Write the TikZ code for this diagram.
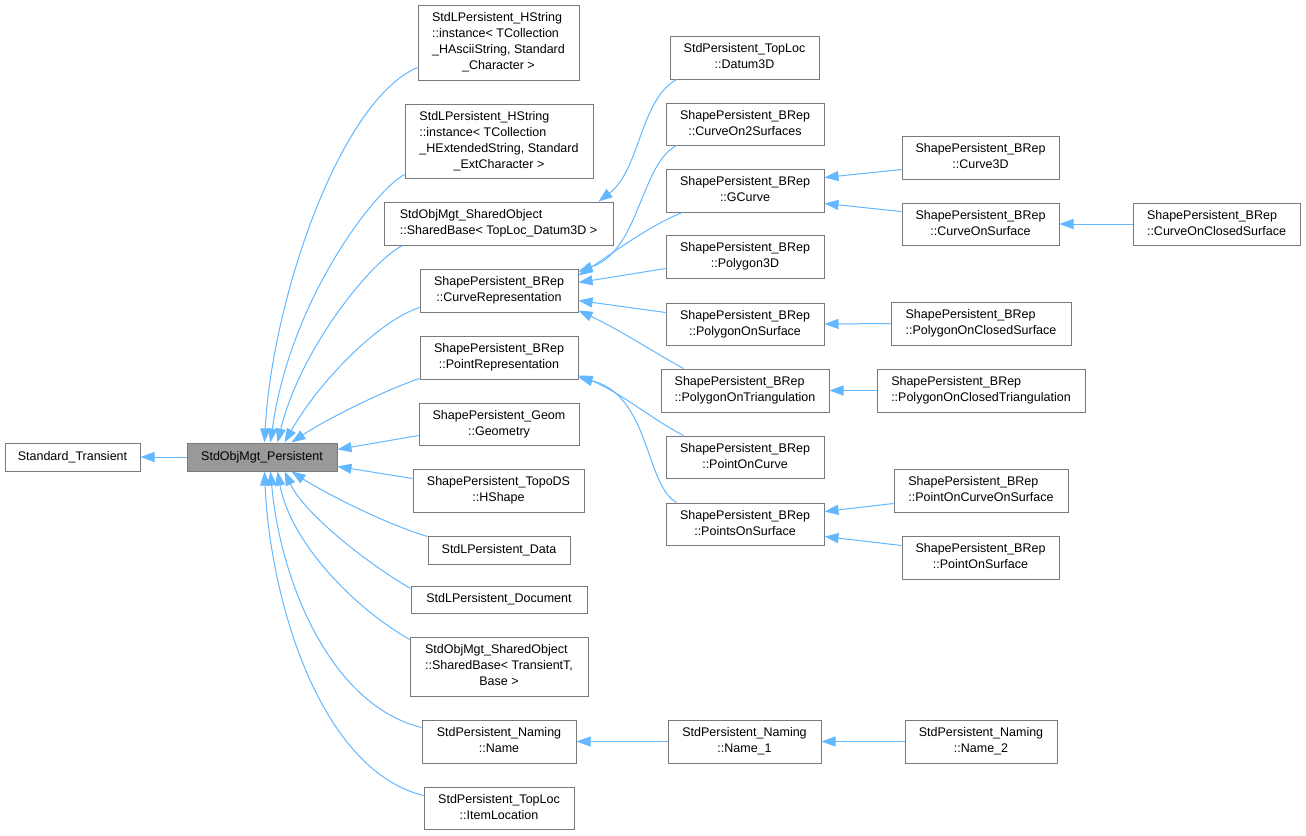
\documentclass[tikz,border=0pt]{standalone}
\usepackage{fontspec}
\setmainfont{Liberation Sans}
\usetikzlibrary{arrows.meta,calc}
\definecolor{edgec}{HTML}{63B8FF}
\definecolor{boxc}{HTML}{7A7A7A}
\definecolor{mainfill}{HTML}{999999}
\newcommand\tl[1]{\begin{tabular}{@{}l@{}}#1\end{tabular}}
\newcommand\lc[1]{\multicolumn{1}{@{}c@{}}{#1}}
\newcommand\bx[7][]{\node[box,#1,minimum width={(#5-#3)*1pt},minimum height={(#6-#4)*1pt}] (#2) at ({(#3+#5)/2},{(#4+#6)/2}) {#7};}
\tikzset{
  box/.style={draw=boxc,fill=white,line width=1pt,inner sep=0pt,font=\fontsize{12.5}{16}\selectfont},
  mainbox/.style={fill=mainfill},
  edge/.style={draw=edgec,line width=1pt,-{Triangle[length=14pt,width=10pt]}},
}
\begin{document}
\begin{tikzpicture}[x=1pt,y=-1pt]
\useasboundingbox[fill=white] (0,0) rectangle (1306,835);
% nodes
\bx{st}{5}{443}{140}{471}{Standard\_Transient}
\bx[mainbox]{per}{187}{443}{337}{471}{StdObjMgt\_Persistent}
\bx{ascii}{418}{5}{579}{80}{\tl{StdLPersistent\_HString\\::instance< TCollection\\\_HAsciiString, Standard\\\lc{\_Character >}}}
\bx{ext}{405}{104}{593}{178}{\tl{StdLPersistent\_HString\\::instance< TCollection\\\_HExtendedString, Standard\\\lc{\_ExtCharacter >}}}
\bx{sbtop}{384}{202}{613}{245}{\tl{StdObjMgt\_SharedObject\\\lc{::SharedBase< TopLoc\_Datum3D >}}}
\bx{crep}{420}{269}{578}{312}{\tl{ShapePersistent\_BRep\\\lc{::CurveRepresentation}}}
\bx{prep}{420}{336}{578}{379}{\tl{ShapePersistent\_BRep\\\lc{::PointRepresentation}}}
\bx{geom}{419}{403}{579}{445}{\tl{ShapePersistent\_Geom\\\lc{::Geometry}}}
\bx{hshape}{413}{469}{584}{512}{\tl{ShapePersistent\_TopoDS\\\lc{::HShape}}}
\bx{data}{428}{536}{570}{564}{StdLPersistent\_Data}
\bx{doc}{411}{586}{587}{613}{StdLPersistent\_Document}
\bx{sbt}{410}{637}{588}{696}{\tl{StdObjMgt\_SharedObject\\::SharedBase< TransientT,\\\lc{Base >}}}
\bx{name}{422}{720}{576}{763}{\tl{StdPersistent\_Naming\\\lc{::Name}}}
\bx{iloc}{424}{787}{574}{829}{\tl{StdPersistent\_TopLoc\\\lc{::ItemLocation}}}
\bx{datum}{670}{36}{819}{79}{\tl{StdPersistent\_TopLoc\\\lc{::Datum3D}}}
\bx{c2s}{666}{103}{824}{145}{\tl{ShapePersistent\_BRep\\\lc{::CurveOn2Surfaces}}}
\bx{gcurve}{666}{169}{824}{212}{\tl{ShapePersistent\_BRep\\\lc{::GCurve}}}
\bx{poly3d}{666}{235}{824}{278}{\tl{ShapePersistent\_BRep\\\lc{::Polygon3D}}}
\bx{pos}{666}{303}{824}{345}{\tl{ShapePersistent\_BRep\\\lc{::PolygonOnSurface}}}
\bx{potri}{661}{369}{829}{412}{\tl{ShapePersistent\_BRep\\\lc{::PolygonOnTriangulation}}}
\bx{poc}{666}{436}{824}{478}{\tl{ShapePersistent\_BRep\\\lc{::PointOnCurve}}}
\bx{psurf}{666}{503}{824}{545}{\tl{ShapePersistent\_BRep\\\lc{::PointsOnSurface}}}
\bx{name1}{668}{720}{821}{763}{\tl{StdPersistent\_Naming\\\lc{::Name\_1}}}
\bx{name2}{905}{720}{1057}{763}{\tl{StdPersistent\_Naming\\\lc{::Name\_2}}}
\bx{curve3d}{902}{136}{1059}{179}{\tl{ShapePersistent\_BRep\\\lc{::Curve3D}}}
\bx{cos}{902}{203}{1059}{245}{\tl{ShapePersistent\_BRep\\\lc{::CurveOnSurface}}}
\bx{cocs}{1133}{203}{1300}{245}{\tl{ShapePersistent\_BRep\\\lc{::CurveOnClosedSurface}}}
\bx{pocs}{891}{302}{1071}{345}{\tl{ShapePersistent\_BRep\\\lc{::PolygonOnClosedSurface}}}
\bx{poct}{877}{369}{1085}{412}{\tl{ShapePersistent\_BRep\\\lc{::PolygonOnClosedTriangulation}}}
\bx{pocos}{894}{469}{1068}{512}{\tl{ShapePersistent\_BRep\\\lc{::PointOnCurveOnSurface}}}
\bx{posurf}{902}{536}{1059}{579}{\tl{ShapePersistent\_BRep\\\lc{::PointOnSurface}}}
% edges
\draw[edge] (per.west) -- (st.east);
\draw[edge] ($(ascii.south west)+(0,-13)$) .. controls (340,100) and (272,300) .. ($(per.north west)+(78,0)$);
\draw[edge] ($(ext.south west)+(0,-4)$) .. controls (375,190) and (290,300) .. ($(per.north west)+(84,0)$);
\draw[edge] ($(sbtop.south west)+(19,0)$) .. controls (370,262) and (300,350) .. ($(per.north west)+(91,0)$);
\draw[edge] ($(crep.south west)+(0,-5)$) .. controls (380,320) and (320,380) .. ($(per.north west)+(98,0)$);
\draw[edge] ($(prep.south west)+(0,-1)$) .. controls (385,390) and (325,420) .. ($(per.north west)+(105,0)$);
\draw[edge] ($(geom.south west)+(0,-10)$) -- ($(per.north east)+(0,7)$);
\draw[edge] ($(hshape.north west)+(0,10)$) -- ($(per.south east)+(0,-5)$);
\draw[edge] ($(data.north west)+(0,1)$) .. controls (380,522) and (320,490) .. ($(per.south west)+(105,0)$);
\draw[edge] ($(doc.north west)+(0,3)$) .. controls (370,565) and (305,515) .. ($(per.south west)+(98,0)$);
\draw[edge] ($(sbt.north west)+(0,3)$) .. controls (350,605) and (290,540) .. ($(per.south west)+(91,0)$);
\draw[edge] ($(name.north west)+(0,8)$) .. controls (330,705) and (280,580) .. ($(per.south west)+(84,0)$);
\draw[edge] ($(iloc.north west)+(0,9)$) .. controls (320,770) and (270,600) .. ($(per.south west)+(78,0)$);
\draw[edge] ($(datum.south west)+(7,0)$) .. controls (640,100) and (640,170) .. ($(sbtop.north east)+(-15,0)$);
\draw[edge] ($(c2s.south west)+(11,0)$) .. controls (640,165) and (640,250) .. ($(crep.north east)+(0,3)$);
\draw[edge] ($(gcurve.south west)+(17,0)$) .. controls (650,225) and (610,255) .. ($(crep.north east)+(0,7)$);
\draw[edge] ($(poly3d.south west)+(0,-10)$) -- ($(crep.north east)+(0,14)$);
\draw[edge] ($(pos.north west)+(0,10)$) -- ($(crep.south east)+(0,-12)$);
\draw[edge] ($(potri.north west)+(23,0)$) .. controls (650,350) and (620,330) .. ($(crep.south east)+(0,-2)$);
\draw[edge] ($(poc.north west)+(18,0)$) .. controls (650,418) and (620,392) .. ($(prep.south east)+(0,-4)$);
\draw[edge] ($(psurf.north west)+(11,0)$) .. controls (645,485) and (650,395) .. ($(prep.south east)+(0,-2)$);
\draw[edge] ($(curve3d.south west)+(0,-10)$) -- ($(gcurve.north east)+(0,9)$);
\draw[edge] ($(cos.north west)+(0,9)$) -- ($(gcurve.south east)+(0,-9)$);
\draw[edge] (cocs.west) -- (cos.east);
\draw[edge] (pocs.west) -- (pos.east);
\draw[edge] (poct.west) -- (potri.east);
\draw[edge] ($(pocos.south west)+(0,-9)$) -- ($(psurf.north east)+(0,9)$);
\draw[edge] ($(posurf.north west)+(0,10)$) -- ($(psurf.south east)+(0,-9)$);
\draw[edge] (name1.west) -- (name.east);
\draw[edge] (name2.west) -- (name1.east);
\end{tikzpicture}
\end{document}
